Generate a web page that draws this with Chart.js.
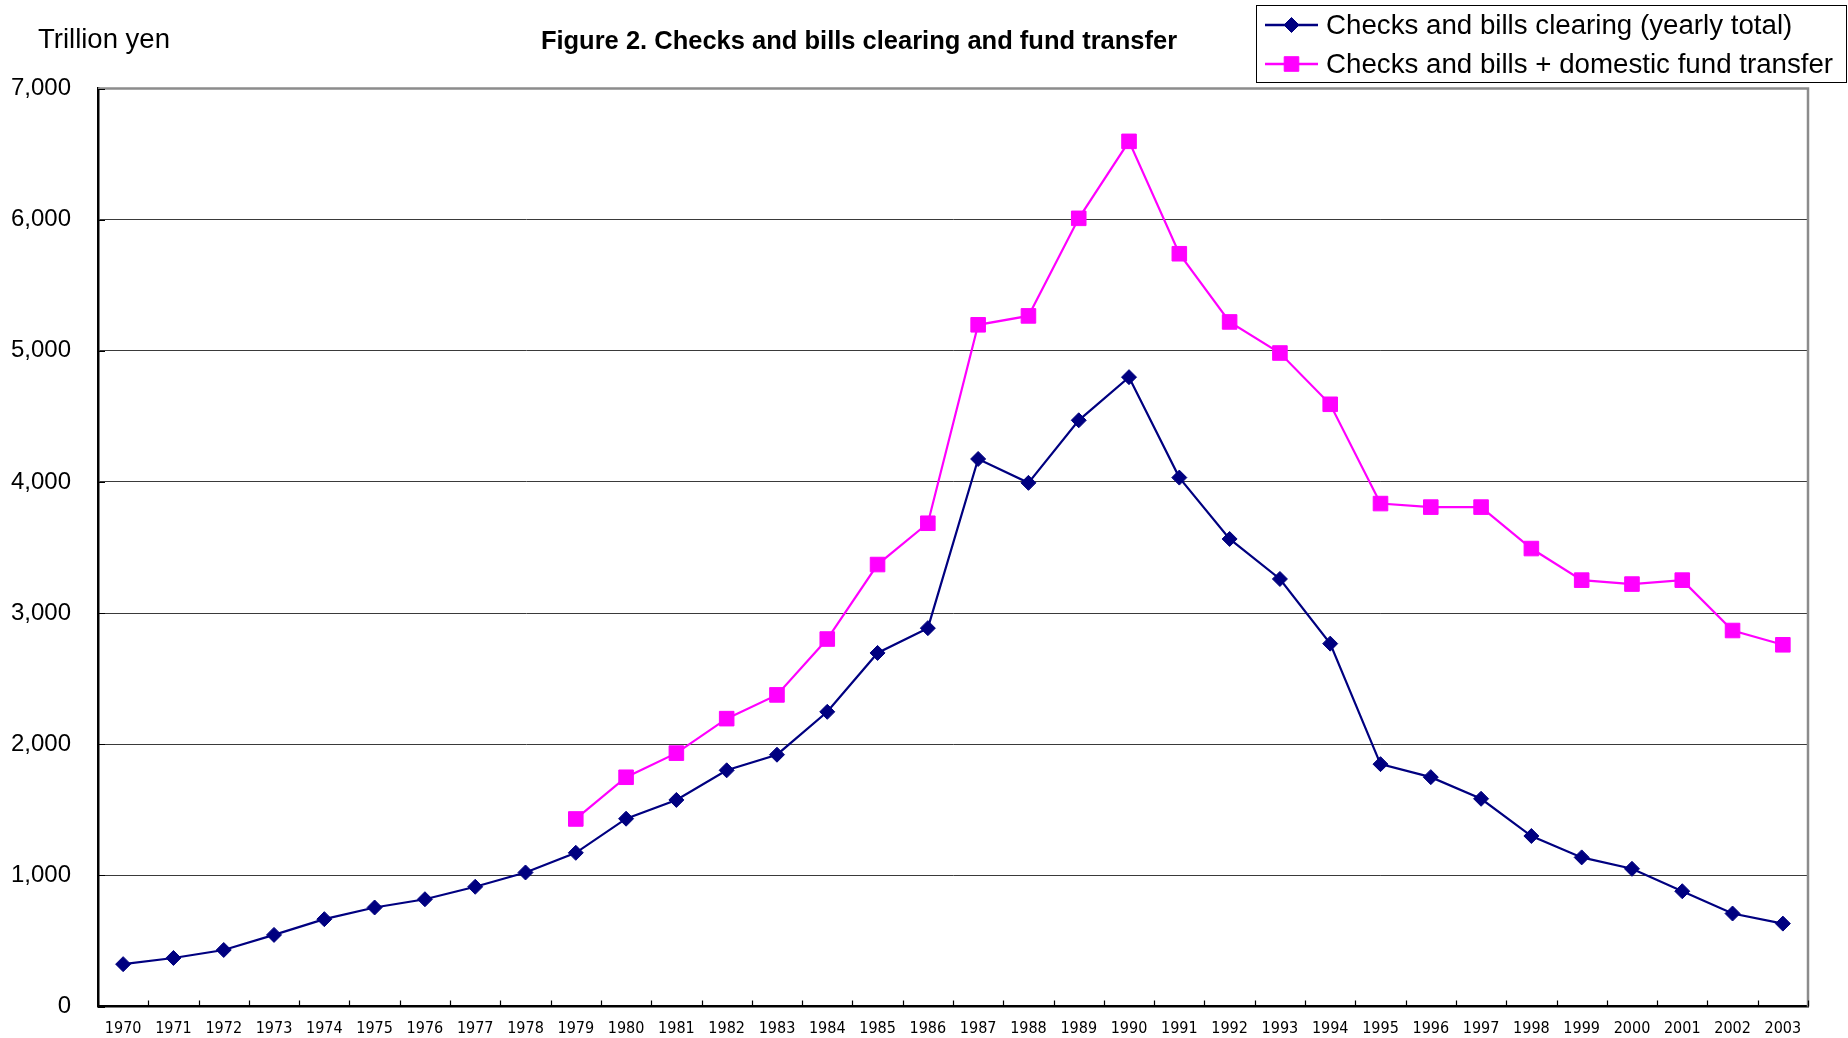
<!DOCTYPE html>
<html>
<head>
<meta charset="utf-8">
<title>Figure 2. Checks and bills clearing and fund transfer</title>
<script src="https://cdn.jsdelivr.net/npm/chart.js@4/dist/chart.umd.min.js"></script>
<style>
  html, body { margin: 0; padding: 0; background: #ffffff; }
  #wrap { width: 1848px; height: 1038px; }
</style>
</head>
<body>
<div id="wrap"><canvas id="chart" width="1848" height="1038"></canvas></div>
<script>
// Years on the horizontal axis
const years = ['1970','1971','1972','1973','1974','1975','1976','1977','1978','1979',
  '1980','1981','1982','1983','1984','1985','1986','1987','1988','1989',
  '1990','1991','1992','1993','1994','1995','1996','1997','1998','1999',
  '2000','2001','2002','2003'];

// Checks and bills clearing, yearly total (trillion yen)
const clearingTotal = [323, 370, 431, 546, 666, 755, 818, 913, 1022, 1172,
  1432, 1575, 1801, 1920, 2247, 2696, 2885, 4175, 3993, 4470,
  4799, 4033, 3565, 3260, 2767, 1848, 1749, 1584, 1300, 1137,
  1050, 879, 709, 632];

// Checks and bills plus domestic fund transfer (trillion yen), from 1979
const withFundTransfer = [null, null, null, null, null, null, null, null, null, 1430,
  1748, 1932, 2195, 2376, 2802, 3370, 3685, 5198, 5266, 6010,
  6597, 5740, 5220, 4983, 4592, 3835, 3808, 3808, 3492, 3251,
  3221, 3251, 2867, 2758];

// Value axis tick labels
const yTickLabels = ['0', '1,000', '2,000', '3,000', '4,000', '5,000', '6,000', '7,000'];

const seriesNames = ['Checks and bills clearing (yearly total)',
  'Checks and bills + domestic fund transfer'];

const NAVY = '#000080';
const MAGENTA = '#FF00FF';
const TEXT_FONT = '"Liberation Sans", Arial, sans-serif';
const NARROW_FONT = '"Liberation Sans Narrow", "DejaVu Sans Condensed", "Liberation Sans", sans-serif';

function drawMarker(ctx, style, x, y, r, color) {
  ctx.save();
  ctx.fillStyle = color;
  ctx.strokeStyle = color;
  ctx.lineWidth = 1;
  ctx.beginPath();
  if (style === 'rectRot') {
    ctx.moveTo(x, y - r);
    ctx.lineTo(x + r, y);
    ctx.lineTo(x, y + r);
    ctx.lineTo(x - r, y);
  } else {
    const h = r * Math.SQRT1_2;
    ctx.rect(x - h, y - h, 2 * h, 2 * h);
  }
  ctx.closePath();
  ctx.fill();
  ctx.stroke();
  ctx.restore();
}

// Frame, inward tick marks, titles and the boxed legend
const decorations = {
  id: 'decorations',
  afterDatasetsDraw(chart) {
    const { ctx, chartArea: a, scales } = chart;
    const xs = scales.x, ys = scales.y;
    ctx.save();

    // grey top and right frame of the plot area
    ctx.strokeStyle = '#8c8c8c';
    ctx.lineWidth = 2.5;
    ctx.beginPath();
    ctx.moveTo(a.left, a.top);
    ctx.lineTo(a.right, a.top);
    ctx.lineTo(a.right, a.bottom);
    ctx.stroke();

    // inward tick marks on both axes
    ctx.strokeStyle = '#000';
    ctx.lineWidth = 1.2;
    ctx.beginPath();
    const n = years.length;
    const step = (xs.getPixelForValue(1) - xs.getPixelForValue(0));
    for (let i = 0; i <= n; i++) {
      const x = Math.round(xs.getPixelForValue(0) - step / 2 + i * step) + 0.5;
      ctx.moveTo(x, a.bottom);
      ctx.lineTo(x, a.bottom - 6);
    }
    for (let i = 0; i < yTickLabels.length; i++) {
      const y = Math.round(ys.getPixelForValue(i * 1000)) + 0.5;
      ctx.moveTo(a.left, y);
      ctx.lineTo(a.left + 7, y);
    }
    ctx.stroke();

    // unit and chart title
    ctx.fillStyle = '#000';
    ctx.textBaseline = 'middle';
    ctx.textAlign = 'left';
    ctx.font = '27.5px ' + TEXT_FONT;
    ctx.fillText('Trillion yen', 38, 40);
    ctx.textAlign = 'center';
    ctx.font = 'bold 25.5px ' + TEXT_FONT;
    ctx.fillText('Figure 2. Checks and bills clearing and fund transfer', 859, 42);

    // legend box
    const bx = 1256.5, by = 5.5, bw = 590, bh = 77;
    ctx.fillStyle = '#fff';
    ctx.fillRect(bx, by, bw, bh);
    ctx.strokeStyle = '#000';
    ctx.lineWidth = 1;
    ctx.strokeRect(bx, by, bw, bh);
    const rows = [25, 64];
    chart.data.datasets.forEach((ds, i) => {
      const y = rows[i];
      ctx.strokeStyle = ds.borderColor;
      ctx.lineWidth = 2.5;
      ctx.beginPath();
      ctx.moveTo(1265, y);
      ctx.lineTo(1318, y);
      ctx.stroke();
      drawMarker(ctx, ds.pointStyle, 1291.5, y, ds.pointRadius, ds.borderColor);
      ctx.fillStyle = '#000';
      ctx.textAlign = 'left';
      ctx.textBaseline = 'middle';
      ctx.font = '27.7px ' + TEXT_FONT;
      ctx.fillText(ds.label, 1326, y + 1);
    });
    ctx.restore();
  }
};

new Chart(document.getElementById('chart'), {
  type: 'line',
  data: {
    labels: years,
    datasets: [
      {
        label: seriesNames[0],
        data: clearingTotal,
        borderColor: NAVY,
        backgroundColor: NAVY,
        borderWidth: 2.2,
        pointStyle: 'rectRot',
        pointRadius: 7.5,
        pointBorderWidth: 1,
        pointHoverRadius: 7.5,
        tension: 0,
        fill: false
      },
      {
        label: seriesNames[1],
        data: withFundTransfer,
        borderColor: MAGENTA,
        backgroundColor: MAGENTA,
        borderWidth: 2.2,
        pointStyle: 'rect',
        pointRadius: 10.3,
        pointBorderWidth: 1,
        pointHoverRadius: 10.3,
        tension: 0,
        fill: false,
        spanGaps: false
      }
    ]
  },
  options: {
    responsive: false,
    animation: false,
    devicePixelRatio: 1,
    layout: { autoPadding: false, padding: { left: 0, right: 40, top: 88.5, bottom: 0 } },
    plugins: {
      legend: { display: false },
      title: { display: false },
      tooltip: { enabled: false }
    },
    scales: {
      x: {
        type: 'category',
        offset: true,
        grid: { display: false, drawTicks: false, tickLength: 0 },
        border: { display: true, color: '#000', width: 2.5 },
        ticks: {
          color: '#000',
          font: { family: NARROW_FONT, size: 16 },
          padding: 13,
          maxRotation: 0,
          autoSkip: false
        },
        afterFit(scale) {
          scale.height = 31.5;
          scale.paddingLeft = 0;
          scale.paddingRight = 0;
        }
      },
      y: {
        min: 0,
        max: 7000,
        grid: {
          drawTicks: false,
          color: (c) => (c.tick && c.tick.value === 7000) ? 'rgba(0,0,0,0)' : '#3a3a3a',
          lineWidth: 1
        },
        border: { display: true, color: '#000', width: 2.5 },
        ticks: {
          stepSize: 1000,
          color: '#000',
          font: { family: TEXT_FONT, size: 24 },
          padding: 27,
          callback: (value, index) => yTickLabels[index]
        },
        afterFit(scale) {
          scale.width = 98;
          scale.paddingTop = 0;
          scale.paddingBottom = 0;
        }
      }
    }
  },
  plugins: [decorations]
});
</script>
</body>
</html>
